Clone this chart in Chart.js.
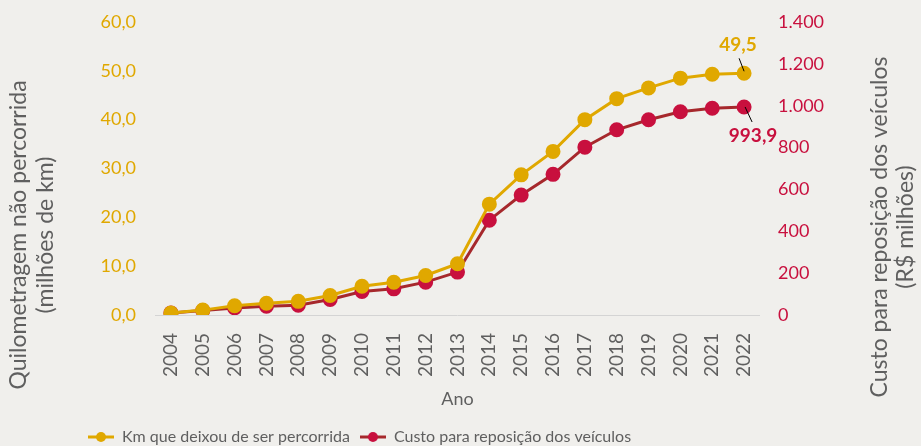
<!DOCTYPE html>
<html>
<head>
<meta charset="utf-8">
<script src="https://cdn.jsdelivr.net/npm/chart.js@4.4.1/dist/chart.umd.min.js"></script>
<style>
  html, body { margin: 0; padding: 0; background: #f0efec; }
  #wrap { width: 921px; height: 446px; }
</style>
</head>
<body>
<div id="wrap"><canvas id="grafico"></canvas></div>
<script>
// Dados
const anos = ["2004", "2005", "2006", "2007", "2008", "2009", "2010", "2011", "2012", "2013",
  "2014", "2015", "2016", "2017", "2018", "2019", "2020", "2021", "2022"];
const kmNaoPercorrida = [0.4, 1.0, 1.9, 2.4, 2.8, 4.0, 5.9, 6.7, 8.1, 10.5,
  22.7, 28.7, 33.5, 40.0, 44.3, 46.5, 48.5, 49.3, 49.5];
const custoReposicao = [10, 21, 34, 42, 47, 74, 112, 125, 157, 205,
  453, 573, 672, 802, 885, 933, 971, 988, 993.9];
const ticksKm = [0, 10, 20, 30, 40, 50, 60];
const ticksCusto = [0, 200, 400, 600, 800, 1000, 1200, 1400];

const ouro = "#e0a800";
const carmim = "#c8103e";
const linhaVermelha = "#a6282c";
const cinza = "#5f5f5f";
const fonte = "Lato, sans-serif";

const fmtKm = v => v.toFixed(1).replace(".", ",");
const fmtCusto = v => v.toLocaleString("de-DE");

// marcador da legenda: linha com bolinha no meio
function marcador(corLinha, corPonto) {
  const c = document.createElement("canvas");
  c.width = 26; c.height = 12;
  const g = c.getContext("2d");
  g.strokeStyle = corLinha;
  g.lineWidth = 3;
  g.beginPath(); g.moveTo(0, 6); g.lineTo(26, 6); g.stroke();
  g.fillStyle = corPonto;
  g.beginPath(); g.arc(13, 6, 5, 0, Math.PI * 2); g.fill();
  return c;
}

// empurra a legenda um pouco para baixo e para a esquerda, como no original
const ajusteLegenda = {
  id: "ajusteLegenda",
  afterLayout(chart) {
    const lg = chart.legend;
    lg.top += 9; lg.bottom += 9;
    lg.left += 78; lg.right += 78;
  }
};

// títulos dos eixos y desenhados à mão (o da direita lê de baixo para cima)
const titulosY = {
  id: "titulosY",
  afterDraw(chart) {
    const ctx = chart.ctx;
    const linhas = [
      { x: 19, y: 235, t: "Quilometragem não percorrida" },
      { x: 46, y: 235, t: "(milhões de km)" },
      { x: 880, y: 227, t: "Custo para reposição dos veículos" },
      { x: 906, y: 227, t: "(R$ milhões)" }
    ];
    ctx.save();
    ctx.fillStyle = cinza;
    ctx.font = "23px " + fonte;
    ctx.textAlign = "center";
    ctx.textBaseline = "middle";
    linhas.forEach(l => {
      ctx.save();
      ctx.translate(l.x, l.y);
      ctx.rotate(-Math.PI / 2);
      ctx.fillText(l.t, 0, 0);
      ctx.restore();
    });
    ctx.restore();
  }
};

// rótulos do último ponto com linha de chamada
const rotuloFinal = {
  id: "rotuloFinal",
  afterDatasetsDraw(chart) {
    const ctx = chart.ctx;
    const conf = [
      { ds: 0, txt: fmtKm(kmNaoPercorrida[kmNaoPercorrida.length - 1]), cor: ouro, dx: -6, dy: -28, l: [0, -2, -5, -15] },
      { ds: 1, txt: custoReposicao[custoReposicao.length - 1].toFixed(1).replace(".", ","), cor: carmim, dx: 9, dy: 29, l: [1, 0, 8, 15] }
    ];
    ctx.save();
    conf.forEach(c => {
      const meta = chart.getDatasetMeta(c.ds);
      const p = meta.data[meta.data.length - 1];
      ctx.strokeStyle = "#000";
      ctx.lineWidth = 1;
      ctx.beginPath();
      ctx.moveTo(p.x + c.l[0], p.y + c.l[1]);
      ctx.lineTo(p.x + c.l[2], p.y + c.l[3]);
      ctx.stroke();
      ctx.fillStyle = c.cor;
      ctx.font = "bold 19px " + fonte;
      ctx.textAlign = "center";
      ctx.textBaseline = "middle";
      ctx.fillText(c.txt, p.x + c.dx, p.y + c.dy);
    });
    ctx.restore();
  }
};

// larguras fixas dos eixos y, sem a folga vertical automática
const eixoFixo = largura => axis => {
  axis.width = largura;
  axis.paddingTop = 0;
  axis.paddingBottom = 0;
};

new Chart(document.getElementById("grafico"), {
  type: "line",
  data: {
    labels: anos,
    datasets: [
      {
        label: "Km que deixou de ser percorrida",
        data: kmNaoPercorrida,
        yAxisID: "yKm",
        borderColor: ouro,
        backgroundColor: ouro,
        pointBackgroundColor: ouro,
        pointBorderColor: ouro,
        borderWidth: 3,
        pointRadius: 6,
        tension: 0
      },
      {
        label: "Custo para reposição dos veículos",
        data: custoReposicao,
        yAxisID: "yCusto",
        borderColor: linhaVermelha,
        backgroundColor: carmim,
        pointBackgroundColor: carmim,
        pointBorderColor: carmim,
        borderWidth: 3,
        pointRadius: 6,
        tension: 0
      }
    ]
  },
  options: {
    responsive: true,
    maintainAspectRatio: false,
    animation: false,
    layout: { padding: { top: 22, right: 0, left: 0, bottom: 0 } },
    plugins: {
      tooltip: { enabled: false },
      legend: {
        position: "bottom",
        align: "start",
        labels: {
          color: cinza,
          font: { family: fonte, size: 16 },
          usePointStyle: true,
          pointStyleWidth: 26,
          padding: 10,
          generateLabels: chart => chart.data.datasets.map((ds, i) => ({
            text: ds.label,
            fontColor: cinza,
            pointStyle: i === 0 ? marcador(ouro, ouro) : marcador(linhaVermelha, carmim),
            datasetIndex: i,
            hidden: false
          }))
        }
      }
    },
    scales: {
      x: {
        offset: true,
        grid: { display: false, drawTicks: false },
        border: { display: false },
        afterFit: axis => { axis.height = 95; },
        ticks: {
          color: cinza,
          font: { family: fonte, size: 19 },
          maxRotation: 90,
          minRotation: 90,
          autoSkip: false,
          padding: 18
        },
        title: { display: true, text: "Ano", color: cinza, font: { family: fonte, size: 18 }, padding: { top: 0, bottom: 0 } }
      },
      yKm: {
        position: "left",
        min: 0,
        max: 60,
        afterBuildTicks: axis => { axis.ticks = ticksKm.map(v => ({ value: v })); },
        afterFit: eixoFixo(155),
        grid: {
          drawTicks: false,
          color: ctx => ctx.tick.value === 0 ? "#d4d4d4" : "transparent"
        },
        border: { display: false },
        ticks: { color: ouro, font: { family: fonte, size: 18 }, padding: 19, callback: v => fmtKm(v) }
      },
      yCusto: {
        position: "right",
        min: 0,
        max: 1400,
        afterBuildTicks: axis => { axis.ticks = ticksCusto.map(v => ({ value: v })); },
        afterFit: eixoFixo(161),
        grid: { display: false, drawTicks: false },
        border: { display: false },
        ticks: { color: carmim, font: { family: fonte, size: 18 }, padding: 18, callback: v => fmtCusto(v) }
      }
    }
  },
  plugins: [ajusteLegenda, rotuloFinal, titulosY]
});
</script>
</body>
</html>
